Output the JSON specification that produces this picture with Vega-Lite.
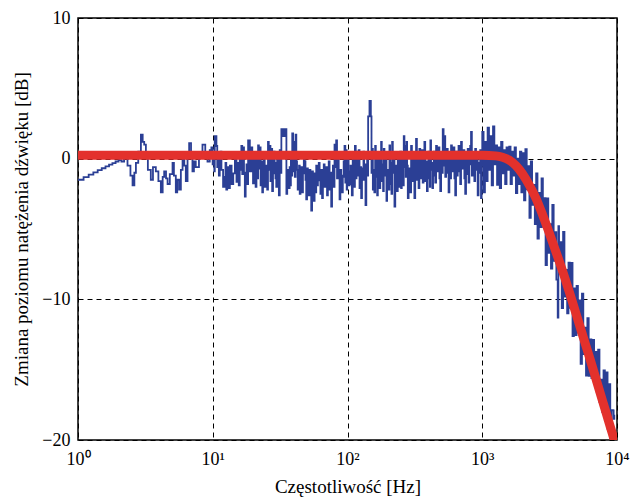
{
  "$schema": "https://vega.github.io/schema/vega-lite/v6.json",
  "width": 539,
  "height": 422,
  "autosize": {"type": "none"},
  "padding": {"left": 78, "top": 18, "right": 15, "bottom": 57},
  "background": "white",
  "config": {"view": {"stroke": "black", "strokeWidth": 1.5}, "font": "Liberation Serif"},
  "datasets": {
    "blue": [
      {"f":1,"db":-1.5},{"f":1.1,"db":-1.31},{"f":1.2,"db":-1.13},{"f":1.3,"db":-0.97},{"f":1.4,"db":-0.82},{"f":1.5,"db":-0.68},{"f":1.6,"db":-0.55},{"f":1.7,"db":-0.43},{"f":1.8,"db":-0.31},{"f":1.9,"db":-0.2},{"f":2.0,"db":-0.1},
      {"f":2.1,"db":-0.2},{"f":2.2,"db":0.1},{"f":2.33,"db":-0.5},{"f":2.45,"db":-1.2},{"f":2.54,"db":-1.9},{"f":2.62,"db":-1.0},{"f":2.69,"db":-0.3},{"f":2.8,"db":0.5},{"f":2.93,"db":1.7},{"f":3.02,"db":1.2},{"f":3.1,"db":1.0},{"f":3.19,"db":0.2},{"f":3.3,"db":-0.8},{"f":3.47,"db":-1.5},{"f":3.6,"db":-0.6},{"f":3.78,"db":-0.9},{"f":3.95,"db":-1.6},{"f":4.12,"db":-2.4},{"f":4.25,"db":-1.3},{"f":4.36,"db":-0.9},{"f":4.5,"db":-1.4},{"f":4.62,"db":-1.8},{"f":4.8,"db":-1.1},{"f":5.03,"db":-0.3},{"f":5.15,"db":-1.2},{"f":5.32,"db":-2.4},{"f":5.45,"db":-1.5},{"f":5.63,"db":-2.2},{"f":5.8,"db":-0.8},{"f":5.97,"db":0.4},{"f":6.15,"db":-0.5},{"f":6.31,"db":-1.6},{"f":6.5,"db":0.2},{"f":6.68,"db":1.1},{"f":6.9,"db":0.4},{"f":7.07,"db":-0.9},{"f":7.25,"db":-0.2},{"f":7.48,"db":-0.6},{"f":7.9,"db":0.3},{"f":8.39,"db":1.0},{"f":8.8,"db":0.1},{"f":9.14,"db":-0.2},{"f":9.5,"db":0.6},
      {"f":9.77,"db":0.8},{"f":9.98,"db":-0.4},{"f":10.2,"db":0.2},{"f":10.27,"db":-0.9},{"f":10.35,"db":1.6},{"f":10.65,"db":0.9},{"f":10.8,"db":-0.6},{"f":10.96,"db":0.35},{"f":11.1,"db":-1.2},{"f":11.27,"db":-0.4},{"f":11.43,"db":0.5},{"f":11.6,"db":-0.8},{"f":11.93,"db":-2.0},{"f":12.27,"db":-1.3},{"f":12.43,"db":-0.3},{"f":12.6,"db":-2.2},{"f":12.8,"db":-0.6},{"f":13.0,"db":-1.0},{"f":13.2,"db":-2.1},{"f":13.4,"db":-0.5},{"f":13.8,"db":-1.8},{"f":14.2,"db":-1.05},{"f":14.6,"db":0.2},{"f":15.0,"db":-1.65},{"f":15.2,"db":-0.3},{"f":15.4,"db":-0.7},{"f":15.6,"db":-1.9},{"f":15.85,"db":0.3},{"f":16.07,"db":-0.8},{"f":16.3,"db":0.9},{"f":16.55,"db":-1.1},{"f":16.8,"db":0.8},{"f":17.05,"db":-1.0},{"f":17.3,"db":-2.7},{"f":17.55,"db":-1.6},{"f":17.8,"db":-0.4},{"f":18.05,"db":-1.8},{"f":18.3,"db":1.3},{"f":18.85,"db":-0.9},{"f":19.4,"db":0.8},{"f":19.65,"db":-0.6},{"f":19.9,"db":-1.75},{"f":20.2,"db":0.4},{"f":20.5,"db":-0.6},{"f":20.8,"db":-2.0},{"f":21.1,"db":0.3},{"f":21.4,"db":-1.4},{"f":21.7,"db":0.95},{"f":22.0,"db":-0.7},{"f":22.3,"db":0.8},{"f":22.65,"db":-1.9},{"f":23.0,"db":-0.2},{"f":23.3,"db":-2.4},{"f":23.6,"db":-1.3},{"f":23.95,"db":0.1},{"f":24.3,"db":-2.0},{"f":24.65,"db":-0.9},{"f":25.0,"db":-0.5},{"f":25.35,"db":-2.2},{"f":25.7,"db":1.2},{"f":26.05,"db":-0.8},{"f":26.4,"db":0.9},{"f":26.8,"db":-1.6},{"f":27.2,"db":0.7},{"f":27.6,"db":-2.3},{"f":28.0,"db":-1.05},{"f":28.4,"db":0.5},{"f":28.8,"db":-0.3},{"f":29.2,"db":-1.4},{"f":29.6,"db":-2.0},{"f":30.05,"db":0.2},{"f":30.5,"db":-1.3},{"f":30.95,"db":-2.6},{"f":31.4,"db":0.6},{"f":31.85,"db":-1.0},{"f":32.3,"db":2.1},{"f":33.2,"db":1.6},{"f":34.2,"db":2.1},{"f":35.2,"db":-2.5},{"f":35.7,"db":-1.1},{"f":36.2,"db":-0.8},{"f":36.7,"db":-2.1},{"f":37.2,"db":-0.6},{"f":37.6,"db":-1.9},{"f":38.0,"db":0.3},{"f":38.45,"db":-1.2},{"f":38.9,"db":1.8},{"f":39.5,"db":-0.9},{"f":40.1,"db":1.2},{"f":40.65,"db":-1.3},{"f":41.2,"db":1.7},{"f":41.7,"db":-0.2},{"f":42.2,"db":-0.8},{"f":42.7,"db":-2.2},{"f":43.2,"db":-1.6},{"f":43.7,"db":-0.5},{"f":44.2,"db":-2.5},{"f":44.8,"db":-1.2},{"f":45.4,"db":-0.6},{"f":46.05,"db":-2.4},{"f":46.7,"db":-1.05},{"f":47.4,"db":0.3},{"f":48.1,"db":-0.2},{"f":48.75,"db":-1.5},{"f":49.4,"db":-2.9},{"f":50.1,"db":-0.7},{"f":50.8,"db":-1.4},{"f":51.55,"db":-2.6},{"f":52.3,"db":-0.8},{"f":53.05,"db":-2.0},{"f":53.8,"db":-3.7},{"f":54.6,"db":-0.9},{"f":55.4,"db":-1.5},{"f":56.2,"db":-3.0},{"f":57.0,"db":-1.05},{"f":57.8,"db":-2.4},{"f":58.6,"db":-0.5},{"f":59.45,"db":-1.9},{"f":60.3,"db":-1.55},{"f":61.2,"db":-0.3},{"f":62.1,"db":-0.9},{"f":62.95,"db":-2.5},{"f":63.8,"db":-0.8},{"f":64.75,"db":-2.8},{"f":65.7,"db":-1.7},{"f":66.65,"db":-0.4},{"f":67.6,"db":-2.0},{"f":68.55,"db":-1.1},{"f":69.5,"db":-0.6},{"f":70.5,"db":-2.6},{"f":71.5,"db":-1.05},{"f":72.55,"db":-0.2},{"f":73.6,"db":-2.2},{"f":74.65,"db":-1.0},{"f":75.7,"db":-3.4},{"f":76.8,"db":-1.8},{"f":77.9,"db":-0.5},{"f":79.0,"db":-2.0},{"f":80.1,"db":1.0},{"f":81.25,"db":-0.6},{"f":82.4,"db":1.3},{"f":83.6,"db":-1.4},{"f":84.8,"db":0.25},{"f":86.05,"db":-1.2},{"f":87.3,"db":-2.9},{"f":88.55,"db":-0.8},{"f":89.8,"db":-1.2},{"f":91.05,"db":-2.4},{"f":92.3,"db":-1.3},{"f":93.65,"db":-0.2},{"f":95.0,"db":0.9},{"f":96.35,"db":-1.7},{"f":97.7,"db":0.6},{"f":98.6,"db":-2.2},
      {"f":99.5,"db":-1.2},{"f":100.7,"db":0.3},{"f":101.9,"db":-1.9},{"f":103.6,"db":-0.9},{"f":105.3,"db":-0.5},{"f":106.5,"db":-1.8},{"f":107.7,"db":-2.6},{"f":109.3,"db":0.2},{"f":110.9,"db":-1.0},{"f":112.2,"db":-2.0},{"f":113.5,"db":0.9},{"f":115.1,"db":-1.4},{"f":116.7,"db":0.5},{"f":118.0,"db":-0.2},{"f":119.4,"db":-1.2},{"f":121.1,"db":0.6},{"f":122.8,"db":-2.1},{"f":124.5,"db":-0.6},{"f":126.3,"db":-2.8},{"f":128.1,"db":-1.5},{"f":129.9,"db":-0.7},{"f":131.4,"db":0.5},{"f":132.9,"db":-1.5},{"f":134.4,"db":-0.4},{"f":136.0,"db":-3.3},{"f":137.9,"db":-1.0},{"f":139.9,"db":0.4},{"f":141.1,"db":-1.2},{"f":142.3,"db":3.0},{"f":145.6,"db":4.1},{"f":149.0,"db":3.0},{"f":150.7,"db":-1.0},{"f":152.4,"db":0.7},{"f":154.2,"db":-2.2},{"f":156.0,"db":-0.8},{"f":158.2,"db":-2.4},{"f":160.4,"db":0.9},{"f":162.2,"db":-1.3},{"f":164.1,"db":0.2},{"f":166.0,"db":-2.6},{"f":167.9,"db":-1.9},{"f":170.3,"db":0.4},{"f":172.7,"db":-2.1},{"f":175.1,"db":-0.6},{"f":177.6,"db":1.2},{"f":179.6,"db":-1.6},{"f":181.7,"db":-0.4},{"f":183.8,"db":-2.3},{"f":185.9,"db":0.7},{"f":188.0,"db":-0.9},{"f":190.2,"db":-1.2},{"f":192.4,"db":0.3},{"f":194.6,"db":-3.0},{"f":196.8,"db":-1.7},{"f":199.1,"db":-0.8},{"f":201.9,"db":-2.2},{"f":204.8,"db":0.95},{"f":207.2,"db":-1.8},{"f":209.6,"db":-0.3},{"f":212.0,"db":-2.5},{"f":214.4,"db":1.2},{"f":216.9,"db":-0.7},{"f":219.4,"db":-1.0},{"f":221.2,"db":0.4},{"f":223.1,"db":-3.4},{"f":226.2,"db":-1.2},{"f":229.4,"db":-0.5},{"f":232.7,"db":-2.3},{"f":236.0,"db":0.2},{"f":239.4,"db":-2.0},{"f":242.8,"db":-1.2},{"f":246.3,"db":0.5},{"f":249.8,"db":-2.1},{"f":252.7,"db":-0.9},{"f":255.6,"db":0.0},{"f":258.5,"db":-1.9},{"f":261.5,"db":1.6},{"f":264.5,"db":-0.6},{"f":267.6,"db":0.9},{"f":270.7,"db":-1.3},{"f":273.8,"db":1.2},{"f":277.0,"db":-0.5},{"f":280.2,"db":-2.8},{"f":284.1,"db":-1.1},{"f":288.0,"db":-0.7},{"f":292.2,"db":-2.4},{"f":296.4,"db":0.9},{"f":300.6,"db":-0.4},{"f":304.8,"db":-1.6},{"f":309.2,"db":0.3},{"f":313.6,"db":-2.8},{"f":318.1,"db":-0.9},{"f":322.6,"db":1.4},{"f":327.3,"db":-1.5},{"f":332.0,"db":0.4},{"f":336.8,"db":-2.1},{"f":341.6,"db":0.7},{"f":346.5,"db":-0.8},{"f":351.5,"db":-1.4},{"f":356.5,"db":0.6},{"f":361.6,"db":-1.7},{"f":366.8,"db":-0.3},{"f":372.0,"db":1.2},{"f":377.3,"db":-1.6},{"f":382.7,"db":-0.2},{"f":388.2,"db":-2.3},{"f":393.7,"db":-1.4},{"f":399.4,"db":0.5},{"f":405.1,"db":-0.6},{"f":408.6,"db":-2.0},{"f":412.1,"db":1.3},{"f":416.9,"db":-0.8},{"f":421.7,"db":-0.3},{"f":426.6,"db":-2.1},{"f":431.5,"db":-1.2},{"f":436.5,"db":0.5},{"f":441.6,"db":0.2},{"f":447.9,"db":-1.7},{"f":454.3,"db":0.9},{"f":460.8,"db":-0.9},{"f":467.4,"db":-0.4},{"f":474.1,"db":0.8},{"f":480.9,"db":-1.4},{"f":487.8,"db":-2.3},{"f":494.8,"db":0.3},{"f":501.9,"db":-1.0},{"f":509.1,"db":2.1},{"f":516.4,"db":-0.5},{"f":523.8,"db":1.6},{"f":531.3,"db":-1.3},{"f":538.9,"db":-0.5},{"f":546.6,"db":0.7},{"f":554.4,"db":-1.0},{"f":562.4,"db":-2.4},{"f":570.4,"db":0.3},{"f":578.6,"db":-1.4},{"f":586.8,"db":0.95},{"f":595.3,"db":-0.9},{"f":603.8,"db":-0.6},{"f":612.4,"db":0.8},{"f":621.2,"db":-1.4},{"f":630.1,"db":-2.6},{"f":639.1,"db":0.5},{"f":648.2,"db":-1.2},{"f":657.5,"db":-0.9},{"f":666.9,"db":0.9},{"f":676.5,"db":0.7},{"f":686.2,"db":-1.8},{"f":696.0,"db":1.2},{"f":706.0,"db":-0.4},{"f":716.1,"db":-0.7},{"f":726.3,"db":0.6},{"f":736.7,"db":-1.4},{"f":747.3,"db":-2.5},{"f":758.0,"db":0.2},{"f":768.9,"db":-1.1},{"f":779.9,"db":0.7},{"f":791.1,"db":-1.7},{"f":802.4,"db":-0.4},{"f":813.9,"db":0.9},{"f":825.5,"db":1.9},{"f":837.3,"db":-1.2},{"f":849.3,"db":0.2},{"f":861.5,"db":-0.7},{"f":873.8,"db":-1.6},{"f":886.3,"db":0.7},{"f":899.0,"db":-0.8},{"f":911.9,"db":0.4},{"f":924.9,"db":-2.6},{"f":938.2,"db":-0.3},{"f":951.6,"db":-1.0},{"f":965.2,"db":0.6},{"f":979.0,"db":-2.8},{"f":989.4,"db":-0.5},
      {"f":1000,"db":1.9},{"f":1023,"db":-2.4},{"f":1047,"db":1.2},{"f":1072,"db":-1.6},{"f":1096,"db":2.2},{"f":1122,"db":-0.8},{"f":1148,"db":1.6},{"f":1175,"db":-1.9},{"f":1202,"db":2.3},{"f":1230,"db":-0.4},{"f":1259,"db":0.95},{"f":1288,"db":-1.87},{"f":1318,"db":0.8},{"f":1349,"db":-2.1},{"f":1380,"db":1.2},{"f":1413,"db":-1.05},{"f":1445,"db":0.6},{"f":1479,"db":-1.8},{"f":1514,"db":0.8},{"f":1549,"db":-0.8},{"f":1585,"db":0.85},{"f":1622,"db":-1.8},{"f":1660,"db":0.5},{"f":1698,"db":-1.2},{"f":1738,"db":0.8},{"f":1778,"db":-2.45},{"f":1820,"db":0.0},{"f":1862,"db":-1.8},{"f":1905,"db":0.5},{"f":1950,"db":-2.4},
      {"f":1995,"db":0.4},{"f":2042,"db":-2.96},{"f":2089,"db":0.68},{"f":2138,"db":-2.18},{"f":2188,"db":-0.54},{"f":2239,"db":-4.2},{"f":2291,"db":-0.19},{"f":2344,"db":-3.28},{"f":2399,"db":-1.87},{"f":2455,"db":-4.66},
      {"f":2512,"db":-1.05},{"f":2570,"db":-5.69},{"f":2630,"db":-2.43},{"f":2692,"db":-4.87},{"f":2754,"db":-1.41},{"f":2818,"db":-4.85},{"f":2884,"db":-2.81},{"f":2951,"db":-7.57},{"f":3020,"db":-2.83},{"f":3090,"db":-6.69},{"f":3162,"db":-4.65},{"f":3236,"db":-7.82},{"f":3311,"db":-3.29},{"f":3388,"db":-7.26},{"f":3467,"db":-5.23},{"f":3548,"db":-8.6},{"f":3631,"db":-11.3},{"f":3673,"db":-4.8},{"f":3715,"db":-7.86},{"f":3802,"db":-5.94},{"f":3890,"db":-10.62},{"f":3981,"db":-5.2},{"f":4074,"db":-9.8},{"f":4169,"db":-7.9},{"f":4266,"db":-11.0},{"f":4365,"db":-7.4},{"f":4467,"db":-10.6},{"f":4571,"db":-7.41},{"f":4677,"db":-12.62},{"f":4786,"db":-9.23},{"f":4898,"db":-12.54},{"f":5012,"db":-9.05},{"f":5129,"db":-12.36},{"f":5248,"db":-10.07},{"f":5370,"db":-14.58},{"f":5495,"db":-9.59},{"f":5623,"db":-13.9},{"f":5754,"db":-12.01},{"f":5888,"db":-15.42},{"f":6026,"db":-11.33},{"f":6166,"db":-15.44},{"f":6310,"db":-12.85},{"f":6457,"db":-15.6},{"f":6607,"db":-12.89},{"f":6761,"db":-15.91},{"f":6918,"db":-13.73},{"f":7079,"db":-16.6},{"f":7244,"db":-13.57},{"f":7413,"db":-17.3},{"f":7586,"db":-15.71},{"f":7762,"db":-18.0},{"f":7943,"db":-15.05},{"f":8128,"db":-18.6},{"f":8318,"db":-15.19},{"f":8511,"db":-19.2},{"f":8710,"db":-16.03},{"f":8913,"db":-19.9},{"f":9120,"db":-17.87},{"f":9333,"db":-17.89},{"f":9441,"db":-18.5},{"f":9550,"db":-18.2}
    ],
    "red": [
      {"f":1,"db":0.25},{"f":1000,"db":0.25},{"f":1259,"db":0.2},{"f":1413,"db":0.1},{"f":1585,"db":-0.1},{"f":1778,"db":-0.5},{"f":1995,"db":-1.1},{"f":2239,"db":-1.9},{"f":2512,"db":-2.85},{"f":2818,"db":-4.05},{"f":3162,"db":-5.35},{"f":3548,"db":-6.7},{"f":3981,"db":-8.1},{"f":4467,"db":-9.6},{"f":5012,"db":-11.15},{"f":5623,"db":-12.7},{"f":6310,"db":-14.25},{"f":7079,"db":-15.85},{"f":7943,"db":-17.45},{"f":8913,"db":-19.05},{"f":10000,"db":-20.65}
    ]
  },
  "layer": [
    {
      "data": {"name": "blue"},
      "mark": {"type": "line", "color": "#2b3f95", "strokeWidth": 1.8, "interpolate": "step-after", "clip": true},
      "encoding": {
        "x": {"field": "f", "type": "quantitative", "scale": {"type": "log", "domain": [1, 10000]},
          "axis": {"title": "Częstotliwość [Hz]", "values": [1, 10, 100, 1000, 10000],
            "labelExpr": "'10' + (datum.value == 1 ? '⁰' : datum.value == 10 ? '¹' : datum.value == 100 ? '²' : datum.value == 1000 ? '³' : '⁴')",
            "grid": true, "gridColor": "black", "gridDash": [5, 4], "gridWidth": 1, "gridOpacity": 1,
            "ticks": false, "domain": false, "labelFlush": false, "labelOverlap": false,
            "labelFont": "Liberation Serif", "labelFontSize": 18, "labelColor": "black", "labelPadding": 10,
            "titleFont": "Liberation Serif", "titleFontSize": 19, "titleFontWeight": "normal", "titleColor": "black", "titlePadding": 9}},
        "y": {"field": "db", "type": "quantitative", "scale": {"domain": [-20, 10]},
          "axis": {"title": "Zmiana poziomu natężenia dźwięku [dB]", "values": [-20, -10, 0, 10],
            "grid": true, "gridColor": "black", "gridDash": [5, 4], "gridWidth": 1, "gridOpacity": 1,
            "ticks": false, "domain": false, "labelFlush": false, "labelOverlap": false,
            "labelFont": "Liberation Serif", "labelFontSize": 18, "labelColor": "black", "labelPadding": 8,
            "titleFont": "Liberation Serif", "titleFontSize": 19, "titleFontWeight": "normal", "titleColor": "black", "titlePadding": 10}}
      }
    },
    {
      "data": {"name": "red"},
      "mark": {"type": "line", "color": "#e3312c", "strokeWidth": 9, "interpolate": "monotone", "clip": true},
      "encoding": {
        "x": {"field": "f", "type": "quantitative"},
        "y": {"field": "db", "type": "quantitative"}
      }
    }
  ]
}
